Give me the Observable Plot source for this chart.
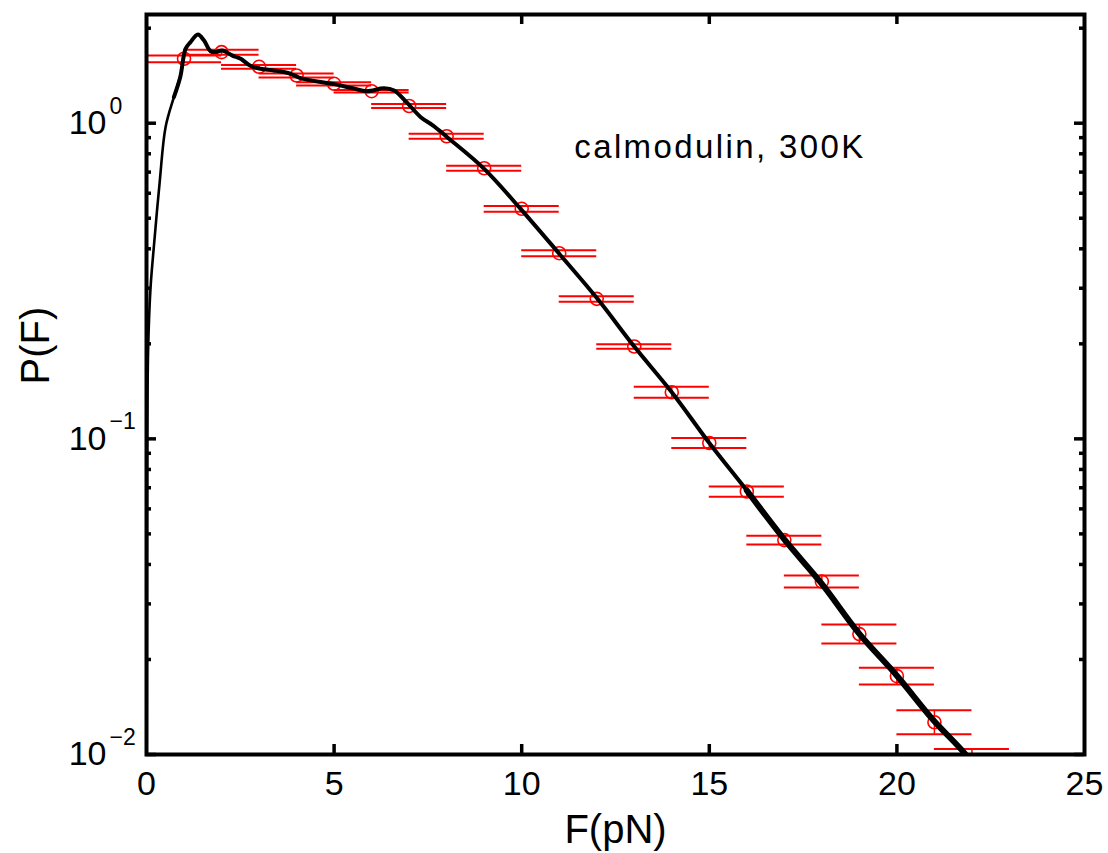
<!DOCTYPE html>
<html><head><meta charset="utf-8">
<script src="https://cdn.jsdelivr.net/npm/d3@7"></script>
<script src="https://cdn.jsdelivr.net/npm/@observablehq/plot@0.6"></script>
<style>body{margin:0;background:#fff;}</style>
</head><body><div id="chart"></div>
<script>
// Histogram points (force bins) with error bars
const binF  = [1,2,3,4,5,6,7,8,9,10,11,12,13,14,15,16,17,18,19,20,21,22];
const binP  = [1.600,1.679,1.509,1.416,1.333,1.263,1.134,0.909,0.720,0.5355,0.3874,0.2777,0.1961,0.1405,0.0970,0.0681,0.04778,0.0353,0.02407,0.01771,0.01265,0.00943];
const binLo = [1.561,1.647,1.487,1.395,1.317,1.250,1.118,0.893,0.707,0.524,0.379,0.272,0.1928,0.1350,0.0935,0.0656,0.0463,0.0338,0.02246,0.01665,0.01159,0.00858];
const binHi = [1.638,1.709,1.529,1.437,1.349,1.275,1.151,0.926,0.733,0.547,0.396,0.283,0.1994,0.1463,0.1006,0.0707,0.0493,0.0369,0.0258,0.01884,0.01381,0.0104];
const binHalfWidth = 1;

// Simulated distribution curve
const curveF = [0.005,0.012,0.02,0.045,0.107,0.195,0.355,0.507,0.73,0.9,1.04,1.17,1.37,1.53,1.71,1.84,2.02,2.29,2.51,2.77,3.04,3.39,3.84,4.1,5.0,5.5,5.87,6.33,6.6,6.93,7.31,7.64,8.0,9.0,9.97,11.0,12.02,13.0,14.0,15.0,16.0,17.0,18.0,19.0,20.0,20.95,21.8,21.95];
const curveP = [0.0095,0.03,0.1,0.195,0.30,0.405,0.658,0.97,1.209,1.40,1.72,1.805,1.91,1.83,1.69,1.68,1.70,1.638,1.60,1.52,1.487,1.469,1.434,1.39,1.33,1.29,1.263,1.29,1.27,1.166,1.045,0.983,0.906,0.717,0.5355,0.386,0.2777,0.196,0.1405,0.097,0.0686,0.048,0.0347,0.0241,0.01777,0.01294,0.0101,0.0095];

const xTickLabels = [0,5,10,15,20,25];
const xInnerTicks = [5,10,15,20];
const yMajor = [0.01,0.1,1];
const yExp = ["\u22122","\u22121","0"];
const yMinor = [0.02,0.03,0.04,0.05,0.06,0.07,0.08,0.09,0.2,0.3,0.4,0.5,0.6,0.7,0.8,0.9,2];
const annotation = "calmodulin, 300K";
const xLabel = "F(pN)";
const yLabel = "P(F)";

const bins = binF.map((F,i) => ({F, P: binP[i], lo: binLo[i], hi: binHi[i]}));
const curve = curveF.map((F,i) => ({F, P: curveP[i]}));
const majors = yMajor.map((v,i) => ({v, e: yExp[i]}));

const W = 1108, H = 853, mL = 146, mR = 24, mT = 14, mB = 99;
const innerW = W - mL - mR, innerH = H - mT - mB;
const majLen = 10, minLen = 5;
const red = "#ff0000";
const tk = {stroke: "#000", strokeWidth: 3.5};
const plot = Plot.plot({
  width: W, height: H,
  marginLeft: mL, marginRight: mR, marginTop: mT, marginBottom: mB,
  style: {fontFamily: "'Liberation Sans', Arial, Helvetica, sans-serif", background: "#fff", color: "#000"},
  x: {domain: [0,25], axis: null},
  y: {type: "log", domain: [0.01, 2.21], axis: null},
  marks: [
    Plot.ruleY(bins, {y: "lo", x1: d => d.F - binHalfWidth, x2: d => d.F + binHalfWidth, stroke: red, strokeWidth: 2, clip: true}),
    Plot.ruleY(bins, {y: "hi", x1: d => d.F - binHalfWidth, x2: d => d.F + binHalfWidth, stroke: red, strokeWidth: 2, clip: true}),
    Plot.ruleX(bins, {x: "F", y1: "lo", y2: "hi", stroke: red, strokeWidth: 1.5, clip: true}),
    Plot.dot(bins, {x: "F", y: "P", r: 6.5, stroke: red, strokeWidth: 1.6, fill: "none", clip: true}),
    Plot.line(curve.filter(d => d.F <= 0.9), {x: "F", y: "P", stroke: "#000", strokeWidth: 2.6, curve: "catmull-rom", clip: true}),
    Plot.line(curve.filter(d => d.F >= 0.73), {x: "F", y: "P", stroke: "#000", strokeWidth: 4, strokeLinejoin: "round", curve: "catmull-rom", clip: true}),
    Plot.line(curve.filter(d => d.F >= 16), {x: "F", y: "P", stroke: "#000", strokeWidth: 6, curve: "catmull-rom", clip: true}),
    Plot.frame({stroke: "#000", strokeWidth: 4}),
    Plot.tickX(xInnerTicks, {x: d => d, insetTop: innerH - majLen, ...tk}),
    Plot.tickX(xInnerTicks, {x: d => d, insetBottom: innerH - majLen, ...tk}),
    Plot.tickY(yMajor, {y: d => d, insetRight: innerW - majLen, ...tk}),
    Plot.tickY(yMajor, {y: d => d, insetLeft: innerW - majLen, ...tk}),
    Plot.tickY(yMinor, {y: d => d, insetRight: innerW - minLen, ...tk}),
    Plot.tickY(yMinor, {y: d => d, insetLeft: innerW - minLen, ...tk}),
    Plot.text(xTickLabels, {x: d => d, frameAnchor: "bottom", text: d => String(d), lineAnchor: "top", dy: 16, fontSize: 34, fill: "#000"}),
    Plot.text(majors, {frameAnchor: "left", y: "v", text: () => "10", textAnchor: "end", dx: -40, fontSize: 34, fill: "#000"}),
    Plot.text(majors, {frameAnchor: "left", y: "v", text: "e", textAnchor: "start", dx: -37, dy: -17, fontSize: 23, fill: "#000"}),
    Plot.text([xLabel], {frameAnchor: "bottom", text: d => d, dy: 76, fontSize: 40, lineAnchor: "middle", fill: "#000"}),
    Plot.text([yLabel], {frameAnchor: "left", text: d => d, dx: -110, rotate: -90, fontSize: 40, fill: "#000"}),
    Plot.text([annotation], {x: 11.4, y: 0.838, text: d => d, textAnchor: "start", fontSize: 33, fill: "#000"})
  ]
});
d3.select(plot).selectAll("text").filter(function() { return this.textContent === annotation; }).attr("letter-spacing", "2.4px");
document.getElementById("chart").append(plot);
</script>
</body></html>
